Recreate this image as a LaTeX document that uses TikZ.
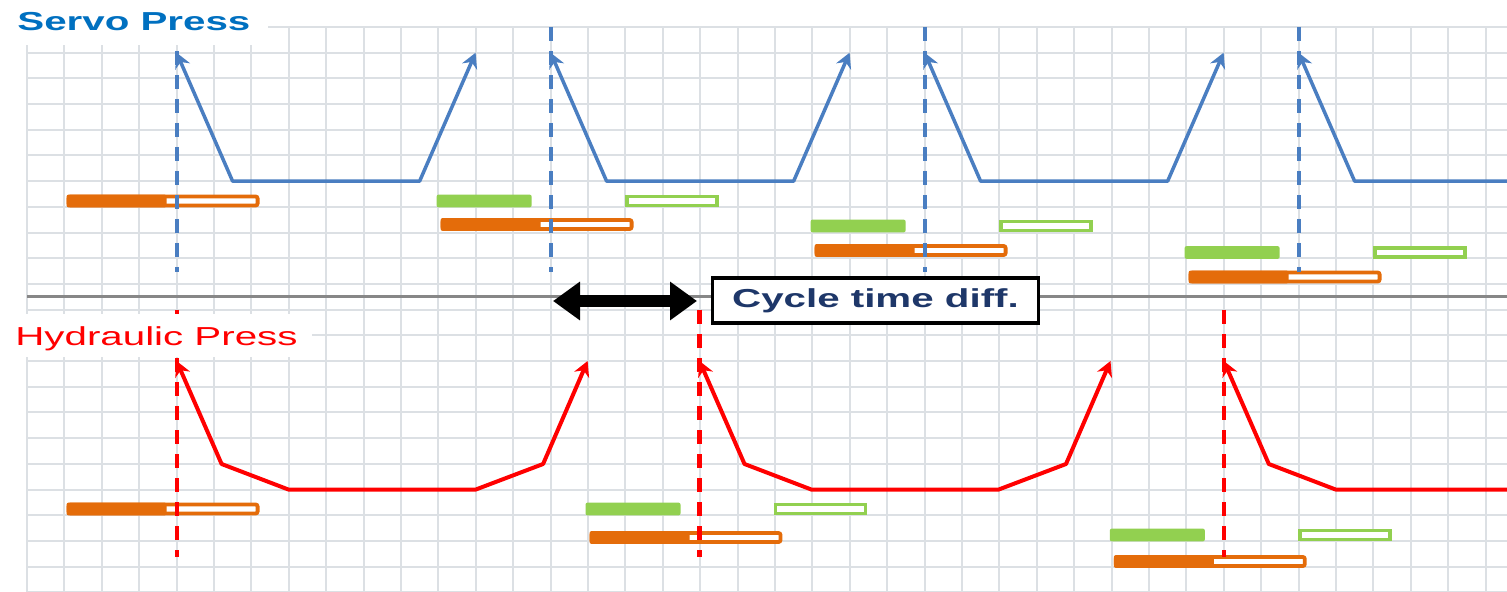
\documentclass[tikz,border=0pt]{standalone}
\usepackage{fontspec}
\setmainfont{Liberation Sans}
\usetikzlibrary{arrows.meta}
\definecolor{gridc}{RGB}{220,224,228}
\definecolor{sepc}{RGB}{135,135,135}
\definecolor{curveblue}{RGB}{74,126,193}
\definecolor{titleblue}{RGB}{0,112,192}
\definecolor{redc}{RGB}{255,0,0}
\definecolor{orangec}{RGB}{228,108,10}
\definecolor{greenc}{RGB}{146,208,80}
\definecolor{navyc}{RGB}{30,55,105}
\tikzset{
  gridline/.style={gridc, line width=1pt},
  obarstyle/.style={draw=orangec, line width=1.9pt, fill=white, rounded corners=1pt},
  gbarstyle/.style={draw=greenc, line width=1.9pt, fill=white},
  bluecurve/.style={curveblue, line width=1.75pt, line join=round},
  redcurve/.style={redc, line width=2pt, line join=round},
  tipb/.tip={Stealth[length=7.5pt,width=8pt]},
  bluedash/.style={curveblue, line width=1.9pt, dash pattern=on 7pt off 5pt},
  reddash/.style={redc, line width=2.1pt, dash pattern=on 7pt off 5pt},
  bigfont/.style={font=\fontsize{13}{15}\selectfont},
}
\newcommand\orangebar[2]{%
  \draw[obarstyle] ({#1-108},{#2-4.5}) rectangle ({#1+81},{#2+4.5});
  \fill[orangec, rounded corners=1pt] ({#1-110},{#2-6.4}) rectangle ({#1-10},{#2+6.4});
}
\newcommand\greenbars[2]{%
  \fill[greenc, rounded corners=1pt] ({#1-114},{#2-6.4}) rectangle ({#1-19},{#2+6.4});
  \draw[gbarstyle] ({#1+76},{#2-4.5}) rectangle ({#1+166},{#2+4.5});
}
\begin{document}
\begin{tikzpicture}[x=0.5pt,y=-0.5pt]
\useasboundingbox (0,0) rectangle (1507,592);
\fill[white] (0,0) rectangle (1507,592);
% grid
\foreach \k in {0,...,39} \draw[gridline] ({27+37.4*\k},27) -- ({27+37.4*\k},592);
\foreach \j in {0,...,22} \draw[gridline] (27,{27+25.7*\j}) -- (1507,{27+25.7*\j});
% separator
\draw[sepc, line width=1.5pt] (27,297) -- (1507,297);
% bars servo
\orangebar{176.6}{201}
\greenbars{550.6}{201}\orangebar{550.6}{224.5}
\greenbars{924.6}{226}\orangebar{924.6}{250.5}
\greenbars{1298.6}{252.5}\orangebar{1298.6}{277}
% bars hydraulic
\orangebar{176.6}{509}
\greenbars{699.5}{509}\orangebar{699.5}{537.5}
\greenbars{1223.8}{535}\orangebar{1223.8}{561.5}
% servo curve
\foreach \p in {176.6,550.6,924.6}
  \draw[bluecurve, {tipb}-{tipb}] (\p,52.7) -- ({\p+56},181.2) -- ({\p+243},181.2) -- ({\p+299},52.7);
\draw[bluecurve, {tipb}-] (1298.6,52.7) -- (1354.6,181.2) -- (1507,181.2);
% hydraulic curve
\foreach \p in {176.6,699.5}
  \draw[redcurve, {tipb}-{tipb}] (\p,361) -- ({\p+45},464) -- ({\p+112},489.6) -- ({\p+299},489.6) -- ({\p+366.5},464) -- ({\p+411},361);
\draw[redcurve, {tipb}-] (1223.8,361) -- (1268.8,464) -- (1335.8,489.6) -- (1507,489.6);
% dashed
\foreach \p in {176.6,550.6,924.6,1298.6} \draw[bluedash] (\p,27) -- (\p,272);
\foreach \p in {176.6,699.5,1223.8} \draw[reddash] (\p,310) -- (\p,557);
% label backgrounds
\fill[white] (0,0) rectangle (268,45);
\fill[white] (0,314) rectangle (312,357);
\node[bigfont, anchor=base west, inner sep=0pt, text=titleblue] (servo) at (17,31) {\scalebox{1.55}[1]{\bfseries Servo Press}};
\node[bigfont, anchor=base west, inner sep=0pt, text=redc] (hydr) at (15,346) {\scalebox{1.55}[1]{Hydraulic Press}};
% cycle time diff
\node[draw=black, line width=1.75pt, fill=white, minimum width=163pt, minimum height=22.5pt, inner sep=0pt, bigfont, text=navyc] (cyc) at (875.5,300.5) {\scalebox{1.55}[1]{\bfseries Cycle time diff.}};
\coordinate (L) at (553,301);
\coordinate (R) at (697,301);
\draw[black, line width=6pt, {Triangle[length=13.5pt,width=18.5pt]}-{Triangle[length=13.5pt,width=18.5pt]}] (L) -- (R);
\end{tikzpicture}
\end{document}
